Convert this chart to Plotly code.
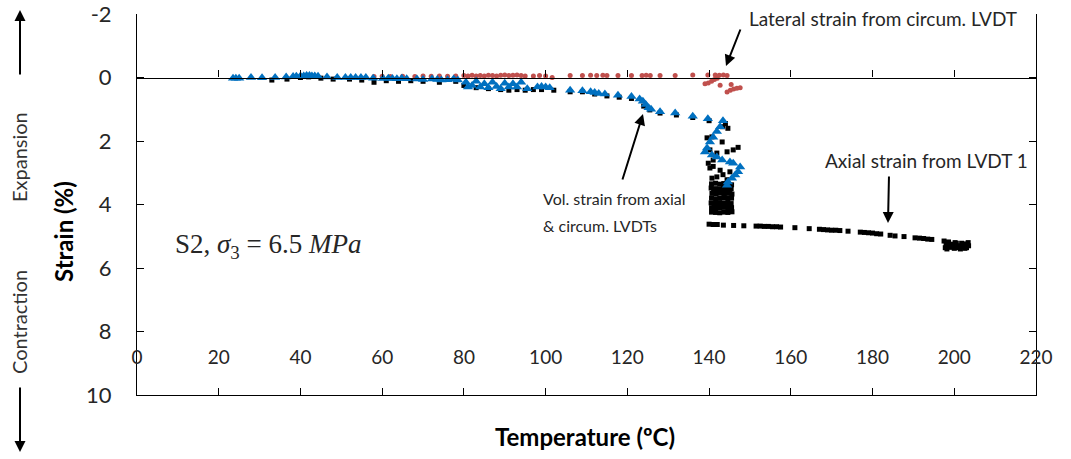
import plotly.graph_objects as go

# ---------------- data ----------------
# Axial strain from LVDT 1 (black)
axial_T = [33.0, 36.7, 40.0, 42.0, 45.0, 48.0, 52.0, 55.0, 58.0, 61.0, 64.0, 67.0, 70.0, 74.0, 78.0,
           80.0, 83.0, 86.0, 89.0, 91.0, 93.0, 95.0, 97.0, 99.0, 102.0, 106.0, 109.0, 112.0, 115.0,
           118.0, 121.0, 124.0, 125.5, 128.0, 132.0, 136.0, 140.0, 144.0,
           143.3, 144.6, 140.7, 139.5, 143.2, 147.1, 145.9, 144.4, 141.9, 140.2, 141.0, 139.8,
           141.0, 140.2, 142.7, 145.1, 143.4, 141.9, 140.7, 144.4,
           140.6, 141.6, 142.6, 143.6, 144.6, 145.5, 145.4, 144.5, 143.5, 142.5, 141.5, 140.5,
           140.7, 141.7, 142.7, 143.7, 144.7, 145.6, 145.5, 144.6, 143.6, 142.6, 141.6, 140.6,
           140.5, 141.5, 142.5, 143.5, 144.5, 145.4, 145.5, 144.6, 143.6, 142.6, 141.6, 140.6,
           140.6, 141.6, 142.6, 143.6, 144.6, 145.6,
           141.1, 142.1, 143.1, 144.1, 145.1, 141.2, 142.2, 143.2, 144.2, 145.2,
           140.0, 141.0, 142.0, 143.5, 146.0, 148.5, 151.5, 152.5, 153.5, 154.5, 155.5, 156.5, 157.5,
           161.0, 164.5, 167.0, 168.0, 169.0, 170.0, 171.0, 172.0, 174.0, 177.0, 178.0, 179.0,
           180.0, 181.0, 182.0, 184.3, 185.5, 187.7, 190.4, 191.5, 192.5, 193.5, 194.5,
           197.5, 198.0, 198.5, 199.0, 199.5, 200.0, 200.5, 201.0, 201.5, 202.0, 202.5, 203.0, 203.5,
           197.8, 198.6, 199.4, 200.2, 201.0, 201.8, 202.6, 203.4, 198.2, 199.8, 201.4, 203.0]
axial_S = [0.08, 0.05, 0.00, -0.02, 0.02, 0.05, 0.05, 0.08, 0.15, 0.10, 0.12, 0.10, 0.12, 0.15, 0.12,
           0.25, 0.32, 0.35, 0.38, 0.40, 0.38, 0.40, 0.38, 0.38, 0.40, 0.45, 0.45, 0.52, 0.58,
           0.62, 0.66, 0.90, 1.02, 1.12, 1.18, 1.26, 1.36, 1.45,
           1.55, 1.60, 1.87, 1.90, 2.03, 2.20, 2.28, 2.34, 2.38, 2.28, 2.60, 2.70,
           2.80, 2.85, 2.92, 2.97, 3.06, 3.13, 3.17, 3.22,
           3.35, 3.33, 3.36, 3.34, 3.32, 3.38, 3.50, 3.52, 3.49, 3.51, 3.50, 3.48,
           3.65, 3.66, 3.64, 3.66, 3.65, 3.67, 3.80, 3.81, 3.79, 3.80, 3.82, 3.80,
           3.95, 3.96, 3.94, 3.95, 3.96, 3.97, 4.10, 4.11, 4.09, 4.10, 4.12, 4.10,
           4.24, 4.25, 4.26, 4.24, 4.25, 4.23,
           3.58, 3.57, 3.58, 3.59, 3.57, 4.02, 4.03, 4.02, 4.01, 4.03,
           4.62, 4.63, 4.63, 4.65, 4.66, 4.67, 4.68, 4.68, 4.69, 4.69, 4.70, 4.70, 4.71,
           4.73, 4.76, 4.78, 4.79, 4.80, 4.81, 4.81, 4.82, 4.84, 4.87, 4.88, 4.89,
           4.90, 4.92, 4.93, 4.97, 4.99, 5.01, 5.05, 5.06, 5.07, 5.09, 5.10,
           5.15, 5.28, 5.20, 5.35, 5.25, 5.38, 5.22, 5.32, 5.40, 5.26, 5.34, 5.24, 5.30,
           5.36, 5.18, 5.30, 5.20, 5.36, 5.22, 5.38, 5.20, 5.40, 5.28, 5.30, 5.36]

# Lateral strain from circum. LVDT (red)
lat_T = [58.0, 60.0, 62.0, 65.0, 68.0, 70.0, 72.0, 74.0, 76.0, 78.0, 80.0, 81.0, 82.0, 83.0, 84.0,
         85.0, 86.0, 87.0, 88.0, 89.0, 90.0, 91.0, 92.0, 93.0, 94.0, 95.0, 97.0, 98.5, 100.0, 101.6,
         106.0, 109.0, 111.0, 112.5, 114.0, 115.0, 117.7, 121.0, 123.6, 124.6, 125.6, 128.0, 131.7,
         136.0, 139.7, 141.5, 142.5, 143.5, 144.4,
         139.0, 139.8, 140.6, 141.3, 142.0, 142.7, 145.4, 144.4, 145.2, 146.0, 146.8, 147.6]
lat_S = [-0.03, -0.04, -0.03, -0.04, -0.03, -0.05, -0.04, -0.05, -0.04, -0.05, -0.06, -0.05, -0.07, -0.05, -0.06,
         -0.05, -0.07, -0.06, -0.05, -0.07, -0.08, -0.06, -0.07, -0.08, -0.06, -0.05, -0.05, -0.06, -0.05, 0.00,
         -0.06, -0.06, -0.07, -0.06, -0.07, -0.06, -0.06, -0.06, -0.06, -0.07, -0.06, -0.06, -0.06,
         -0.08, -0.08, -0.08, -0.07, -0.08, -0.06,
         0.20, 0.17, 0.12, 0.06, 0.02, 0.24, 0.22, 0.46, 0.40, 0.36, 0.34, 0.32]

# Vol. strain from axial & circum. LVDTs (blue)
vol_T = [23.5, 24.2, 25.0, 27.9, 30.6, 33.8, 36.5, 38.2, 39.0, 40.0, 40.8, 41.5, 42.2, 42.8, 43.5, 44.3,
         46.5, 49.0, 51.0, 52.3, 53.5, 54.8, 56.0, 57.8, 60.2, 61.5, 62.5, 63.6, 64.8, 66.0, 68.5, 70.0,
         72.2, 73.5, 74.5, 76.0, 77.5, 78.5,
         80.5, 81.0, 82.0, 83.0, 84.0, 85.0, 86.0, 87.0, 88.0, 89.0, 90.0, 91.0, 92.0, 93.0, 94.0, 95.5,
         98.0, 99.0, 100.0, 101.0, 106.0, 109.0, 111.0, 112.0, 113.0, 114.5, 117.7, 121.0,
         123.0, 123.8, 124.5, 125.2, 125.8, 128.0, 131.7, 136.0, 139.7, 143.4,
         142.7, 141.9, 141.0, 140.2, 139.5, 139.0, 140.7, 141.9, 143.2, 145.1, 145.9,
         147.6, 147.1, 146.4, 145.6, 144.6, 144.4]
vol_S = [0.02, 0.02, 0.02, 0.00, 0.01, 0.00, -0.02, -0.03, -0.04, -0.05, -0.05, -0.06, -0.06, -0.05, -0.05, -0.04,
         -0.02, 0.00, 0.00, 0.00, 0.00, 0.00, 0.00, 0.02, 0.03, 0.02, 0.03, 0.04, 0.02, 0.04, 0.05, 0.06,
         0.05, 0.06, 0.08, 0.07, 0.05, 0.08,
         0.15, 0.30, 0.25, 0.12, 0.30, 0.20, 0.32, 0.15, 0.28, 0.35, 0.18, 0.30, 0.20, 0.30, 0.15, 0.35,
         0.30, 0.28, 0.30, 0.32, 0.40, 0.42, 0.45, 0.47, 0.50, 0.52, 0.56, 0.60,
         0.68, 0.75, 0.85, 0.95, 1.00, 1.08, 1.12, 1.22, 1.30, 1.36,
         1.55, 1.70, 1.88, 2.03, 2.22, 2.35, 2.44, 2.50, 2.60, 2.66, 2.70,
         2.82, 2.97, 3.07, 3.17, 3.29, 3.39]

x_ticks = [0, 20, 40, 60, 80, 100, 120, 140, 160, 180, 200, 220]
y_ticks = [-2, 0, 2, 4, 6, 8, 10]
y_tick_text = ["-2", "0", "2", "4", "6", "8", "10"]

# ---------------- layout helpers ----------------
W, H = 1071, 459
ML, MT = 137, 14
PW, PH = 899, 381
MR = W - ML - PW
MB = H - MT - PH


def px(xp):
    return (xp - ML) / PW


def py(yp):
    return (H - MB - yp) / PH


FONT = "Lato"
TXT = "#262626"

fig = go.Figure()
fig.add_trace(go.Scatter(x=axial_T, y=axial_S, mode="markers", name="Axial strain from LVDT 1",
                         marker=dict(symbol="square", size=5, color="black")))
fig.add_trace(go.Scatter(x=lat_T, y=lat_S, mode="markers", name="Lateral strain from circum. LVDT",
                         marker=dict(symbol="circle", size=5, color="#C0504D")))
fig.add_trace(go.Scatter(x=vol_T, y=vol_S, mode="markers", name="Vol. strain",
                         marker=dict(symbol="triangle-up", size=9, color="#0070C0")))
# helper (empty) traces so the extra axes are drawn
fig.add_trace(go.Scatter(x=[None], y=[None], xaxis="x2", yaxis="y", showlegend=False, hoverinfo="skip"))
fig.add_trace(go.Scatter(x=[None], y=[None], xaxis="x3", yaxis="y", showlegend=False, hoverinfo="skip"))

axis_common = dict(range=[0, 220], tickvals=x_ticks, showgrid=False, zeroline=False, automargin=False)

fig.update_layout(
    width=W, height=H,
    margin=dict(l=ML, r=MR, t=MT, b=MB, pad=0),
    paper_bgcolor="white", plot_bgcolor="white",
    showlegend=False,
    font=dict(family=FONT, color=TXT),
    xaxis=dict(**axis_common, showline=True, linecolor="black", linewidth=1,
               ticks="inside", ticklen=7, tickcolor="black", showticklabels=False),
    xaxis2=dict(**axis_common, overlaying="x", anchor="free", position=10 / 12,
                showline=True, linecolor="black", linewidth=1.3,
                ticks="inside", ticklen=7, tickcolor="black", showticklabels=False),
    xaxis3=dict(**axis_common, overlaying="x", anchor="free", position=0.135,
                showline=False, ticks="", showticklabels=True,
                tickfont=dict(family=FONT, size=19, color=TXT)),
    yaxis=dict(range=[10, -2.0005], tickvals=y_ticks, ticktext=y_tick_text,
               showgrid=False, zeroline=False, automargin=False,
               showline=True, linecolor="black", linewidth=1, mirror="ticks",
               ticks="inside", ticklen=7, tickcolor="black", ticklabeloverflow="allow",
               tickfont=dict(family=FONT, size=22, color=TXT), ticklabelstandoff=20),
)

ann = []


def arrow(hx, hy, tx, ty):
    ann.append(dict(x=px(hx), y=py(hy), xref="paper", yref="paper", ax=tx - hx, ay=ty - hy,
                    text="", showarrow=True, arrowhead=2, arrowsize=1.1, arrowwidth=2,
                    arrowcolor="black"))


def label(x, y, text, size=17, xanchor="left", angle=0, bold=False, family=FONT, color=TXT):
    t = f"<b>{text}</b>" if bold else text
    ann.append(dict(x=px(x), y=py(y), xref="paper", yref="paper", text=t, showarrow=False,
                    xanchor=xanchor, yanchor="middle", textangle=angle,
                    font=dict(family=family, size=size, color=color)))


# left-side direction arrows and labels
arrow(20, 10, 20, 76)
arrow(20, 452, 20, 386)
label(19, 157, "Expansion", size=20, xanchor="center", angle=-90, color="#333333")
label(19, 322, "Contraction", size=20, xanchor="center", angle=-90, color="#333333")
label(63, 232, "Strain (%)", size=24, xanchor="center", angle=-90, bold=True, color="black")
label(585, 436, "Temperature (ºC)", size=24, xanchor="center", bold=True, color="black")

# series call-outs
label(747, 18, "Lateral strain from circum. LVDT", size=19)
arrow(726, 66, 741, 28)
label(823, 160, "Axial strain from LVDT 1", size=19)
arrow(888, 223, 889, 175)
label(541, 198, "Vol. strain from axial", size=16)
label(541, 225, "&amp; circum. LVDTs", size=16)
arrow(643, 114, 622, 181)

label(173, 246, "S2, <i>σ</i><sub>3</sub> = 6.5 <i>MPa</i>", size=27, family="Liberation Serif", color=TXT)

fig.update_layout(annotations=ann)

fig.write_html("out.html", config={"displayModeBar": False},
               post_script="document.body.style.margin='0px';")
